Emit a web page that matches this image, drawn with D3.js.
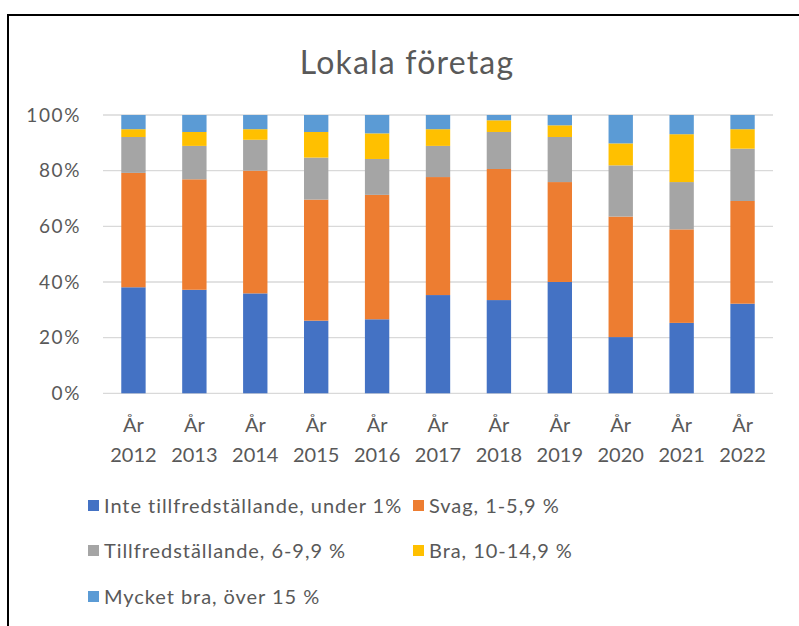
<!DOCTYPE html>
<html><head><meta charset="utf-8">
<script src="https://cdn.jsdelivr.net/npm/d3@7"></script>
<style>body{margin:0;background:#fff}svg{display:block}text{font-family:Lato,"Open Sans",sans-serif;fill:#595959}</style>
</head><body>
<svg id="c" width="799" height="626"></svg>
<script>
const years = ["2012","2013","2014","2015","2016","2017","2018","2019","2020","2021","2022"];
const seriesNames = ["Inte tillfredställande, under 1%","Svag, 1-5,9 %","Tillfredställande, 6-9,9 %","Bra, 10-14,9 %","Mycket bra, över 15 %"];
const inteTillfr = [38.1,37.2,35.9,26.1,26.6,35.3,33.5,40.0,20.2,25.3,32.2];
const svag       = [41.1,39.7,44.1,43.5,44.7,42.4,47.1,35.9,43.3,33.6,36.9];
const tillfr     = [12.9,12.0,11.1,15.1,12.9,11.2,13.3,16.2,18.4,17.0,18.8];
const bra        = [2.8,5.0,3.8,9.2,9.2,6.0,4.2,4.2,7.9,17.2,7.0];
const mycketBra  = [5.1,6.1,5.1,6.1,6.6,5.1,1.9,3.7,10.2,6.9,5.1];
const yTicks = [0,20,40,60,80,100];
const colors = ["#4472C4","#ED7D31","#A5A5A5","#FFC000","#5B9BD5"];

(function(){
const svg = d3.select("#c");
svg.append("path").attr("d","M8,626 V15 H799").attr("fill","none").attr("stroke","#000").attr("stroke-width",2);

const pLeft=103, pRight=773, pTop=115, pBottom=393.3;
const x = d3.scaleBand().domain(years).range([pLeft,pRight]).paddingInner(0.6).paddingOuter(0.3);
const y = d3.scaleLinear().domain([0,100]).range([pBottom,pTop]);

svg.append("text").attr("x",407).attr("y",74).attr("text-anchor","middle")
  .style("font-size","32px").style("font-weight","400").style("letter-spacing","1.2px").text("Lokala företag");

svg.append("g").selectAll("line").data(yTicks).join("line")
  .attr("x1",pLeft).attr("x2",pRight).attr("y1",d=>y(d)).attr("y2",d=>y(d))
  .attr("stroke","#D9D9D9").attr("stroke-width",1.3);
svg.append("g").selectAll("text").data(yTicks).join("text")
  .attr("x",81).attr("y",d=>y(d)).attr("dy","0.35em").attr("text-anchor","end")
  .style("font-size","19px").style("letter-spacing","1.6px").text(d=>d+"%");

const table = years.map((yr,i)=>({year:yr, s0:inteTillfr[i], s1:svag[i], s2:tillfr[i], s3:bra[i], s4:mycketBra[i]}));
const stack = d3.stack().keys(["s0","s1","s2","s3","s4"])(table);
svg.append("g").selectAll("g").data(stack).join("g").attr("fill",(d,i)=>colors[i])
  .selectAll("rect").data(d=>d).join("rect")
  .attr("x",d=>x(d.data.year)).attr("width",x.bandwidth())
  .attr("y",d=>y(d[1])).attr("height",d=>y(d[0])-y(d[1]));

const xl = svg.append("g").selectAll("g").data(years).join("g")
  .attr("transform",d=>`translate(${x(d)+x.bandwidth()/2},0)`);
xl.append("text").attr("y",432).attr("text-anchor","middle").style("font-size","20px").text("År");
xl.append("text").attr("y",462).attr("text-anchor","middle").style("font-size","20px").text(d=>d);

const legPos = [[88,506],[413,506],[88,551],[413,551],[88,597]];
const lg = svg.append("g").selectAll("g").data(seriesNames).join("g")
  .attr("transform",(d,i)=>`translate(${legPos[i][0]},${legPos[i][1]})`);
lg.append("rect").attr("x",0).attr("y",-6).attr("width",11).attr("height",11).attr("fill",(d,i)=>colors[i]);
lg.append("text").attr("x",16).attr("y",0).attr("dy","0.36em").style("font-size","20px").style("letter-spacing","0.95px").text(d=>d);
})();
</script>
</body></html>
